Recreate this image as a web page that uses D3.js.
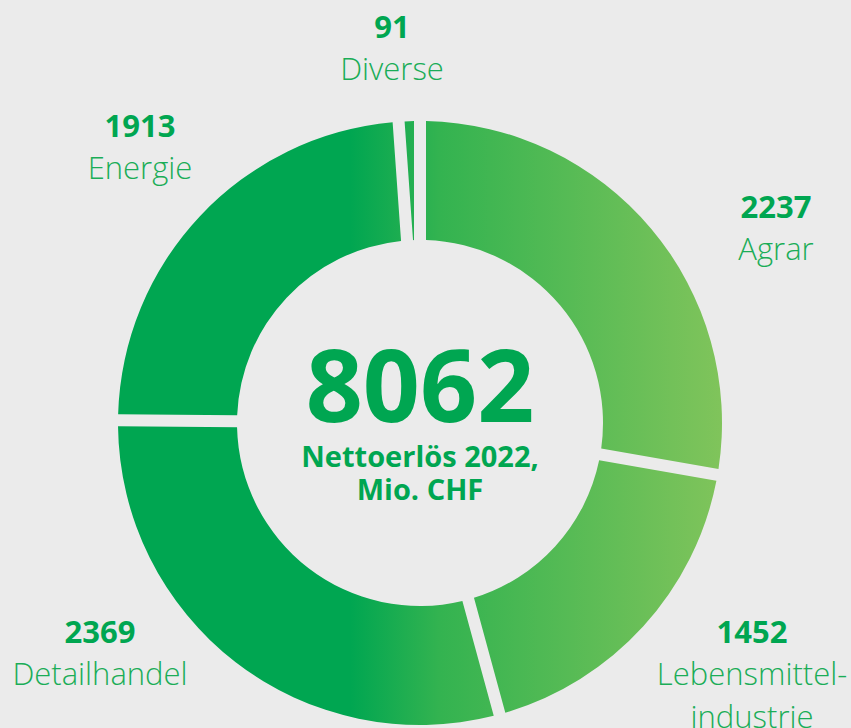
<!DOCTYPE html>
<html>
<head>
<meta charset="utf-8">
<script src="https://cdn.jsdelivr.net/npm/d3@7"></script>
<style>
  body { margin: 0; background: #ebebeb; }
  svg { display: block; font-family: "Open Sans", sans-serif; }
</style>
</head>
<body>
<div class="container"></div>
<script>
// Nettoerlös 2022 nach Segment, Mio. CHF
const categories = ["Agrar", "Lebensmittelindustrie", "Detailhandel", "Energie", "Diverse"];
const nameLines = [["Agrar"], ["Lebensmittel-", "industrie"], ["Detailhandel"], ["Energie"], ["Diverse"]];
const values = [2237, 1452, 2369, 1913, 91];
const centerLines = ["Nettoerlös 2022,", "Mio. CHF"];

// label anchors (center x, baseline of the number), placed by hand
const labelPos = [[776, 218], [752, 643], [100, 643], [140, 137], [392, 38]];

const width = 851, height = 728;
const cx = 420, cy = 423;
const outerR = 302, innerR = 183;
const green = "#00a651";

const data = categories.map((c, i) => ({ name: c, lines: nameLines[i], value: values[i], pos: labelPos[i] }));
const total = d3.sum(values);

const svg = d3.select(".container")
  .append("svg")
  .attr("width", width)
  .attr("height", height)
  .style("background-color", "#ebebeb");

// horizontal gradient, in the ring's own (centred) coordinates
const grad = svg.append("defs")
  .append("linearGradient")
  .attr("id", "ring")
  .attr("gradientUnits", "userSpaceOnUse")
  .attr("x1", -70).attr("x2", outerR)
  .attr("y1", 0).attr("y2", 0);
grad.append("stop").attr("offset", 0).attr("stop-color", "#00a651");
grad.append("stop").attr("offset", 0.24).attr("stop-color", "#33b350");
grad.append("stop").attr("offset", 1).attr("stop-color", "#80c45b");

const pie = d3.pie().sort(null).value(d => d.value);
const arc = d3.arc()
  .innerRadius(innerR)
  .outerRadius(outerR)
  .padRadius(300)
  .padAngle(0.04);

svg.append("g")
  .attr("transform", `translate(${cx},${cy})`)
  .selectAll("path")
  .data(pie(data))
  .join("path")
  .attr("d", arc)
  .attr("fill", "url(#ring)");

// labels
const lab = svg.append("g")
  .selectAll("g")
  .data(data)
  .join("g")
  .attr("transform", d => `translate(${d.pos[0]},${d.pos[1]})`)
  .attr("text-anchor", "middle");

lab.append("text")
  .attr("font-size", 31)
  .attr("font-weight", 700)
  .attr("fill", green)
  .text(d => d3.format("d")(d.value));

lab.selectAll("text.name")
  .data(d => d.lines)
  .join("text")
  .attr("class", "name")
  .attr("y", (d, i) => 42 + i * 43)
  .attr("font-size", 31)
  .attr("font-weight", 300)
  .attr("fill", "#1aad57")
  .text(d => d);

// centre
svg.append("text")
  .attr("x", cx).attr("y", 422)
  .attr("text-anchor", "middle")
  .attr("font-size", 100)
  .attr("font-weight", 700)
  .attr("fill", green)
  .text(total);

svg.append("g")
  .selectAll("text")
  .data(centerLines)
  .join("text")
  .attr("x", cx)
  .attr("y", (d, i) => 467 + i * 33)
  .attr("text-anchor", "middle")
  .attr("font-size", 29)
  .attr("font-weight", 700)
  .attr("fill", green)
  .text(d => d);
</script>
</body>
</html>
